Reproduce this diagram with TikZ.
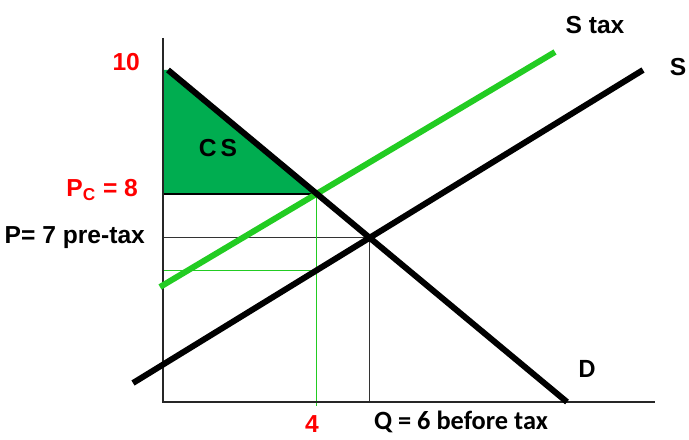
\documentclass[tikz,border=0pt]{standalone}
\usepackage{fontspec}
\setmainfont{Liberation Sans}
\newfontfamily\calibrifont{Carlito}
\usetikzlibrary{positioning, calc}
\definecolor{taxgreen}{HTML}{22CC22}
\definecolor{csgreen}{HTML}{00AD50}
\definecolor{pricered}{HTML}{FF0000}

\begin{document}
\begin{tikzpicture}[
    curve/.style={line width=3.4pt},
    guide/.style={line width=0.8pt, black!80},
    taxguide/.style={line width=0.7pt, taxgreen},
    lbl/.style={font=\fontsize{14}{16}\selectfont\bfseries, inner sep=1pt},
    redlbl/.style={lbl, text=pricered},
    callbl/.style={font=\fontsize{15}{17}\selectfont\calibrifont\bfseries, inner sep=1pt},
]
    \useasboundingbox (0,0) rectangle (13.78,8.78);

    % Axes
    \coordinate (origin) at (3.26,0.74);
    \coordinate (ytop) at (3.26,8.02);
    \coordinate (xend) at (13.10,0.74);

    % Curve end points
    \coordinate (d0) at (3.36,7.38);
    \coordinate (d1) at (11.34,0.74);
    \coordinate (s0) at (2.66,1.12);
    \coordinate (s1) at (12.86,7.38);
    \coordinate (t0) at (3.20,3.04);
    \coordinate (t1) at (11.10,7.74);

    % Intersections
    \coordinate (pc) at (intersection of d0--d1 and t0--t1);
    \coordinate (eq) at (intersection of d0--d1 and s0--s1);
    \coordinate (pcfoot) at (pc|-origin);
    \coordinate (pp) at (intersection of s0--s1 and pc--pcfoot);
    \coordinate (qfour) at ($(pcfoot)+(0,-0.08)$);

    % Consumer surplus
    \fill[csgreen] (origin|-d0) -- (d0) -- (pc) -- (origin|-pc) -- cycle;
    \draw[line width=1.3pt] (origin|-pc) -- (pc);

    % Guide lines
    \draw[guide] (origin|-eq) -- (eq);
    \draw[guide] (eq) -- (eq|-origin);
    \draw[taxguide] (origin|-pp) -- (pp);
    \draw[taxguide] (pc) -- (qfour);

    \draw[line width=1.2pt, black!85] (ytop) -- (origin) -- (xend);

    % Curves
    \draw[curve, taxgreen] (t0) -- (t1);
    \draw[curve] (s0) -- (s1);
    \draw[curve] (d0) -- (d1);

    % Labels
    \node[redlbl, anchor=east] (ten) at (2.84,7.54) {10};
    \node[redlbl, anchor=east] (pclbl) at (2.80,4.98) {P\textsubscript{C} = 8};
    \node[lbl, anchor=east] (p7lbl) at (2.94,4.02) {P= 7 pre-tax};
    \node[lbl] (cslbl) at (4.36,5.82) {C\,S};
    \node[redlbl] (fourlbl) at (6.24,0.30) {4};
    \node[callbl, anchor=west] (qlbl) at (7.44,0.34) {Q = 6 before tax};
    \node[lbl] (staxlbl) at (11.90,8.28) {S tax};
    \node[lbl] (slbl) at (13.56,7.44) {S};
    \node[callbl] (dlbl) at (11.74,1.40) {D};

\end{tikzpicture}
\end{document}
